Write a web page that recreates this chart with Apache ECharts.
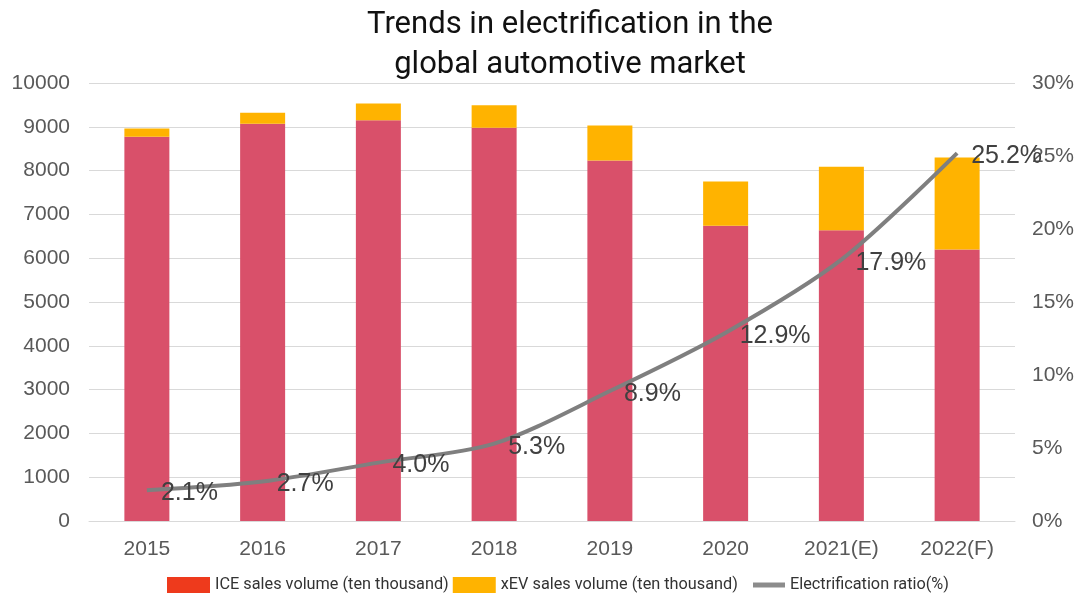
<!DOCTYPE html>
<html>
<head>
<meta charset="utf-8">
<script src="https://cdn.jsdelivr.net/npm/echarts@6/dist/echarts.min.js"></script>
<style>
  html, body { margin: 0; padding: 0; background: #fff; }
  #chart { width: 1080px; height: 601px; }
</style>
</head>
<body>
<div id="chart"></div>
<script>
  // data
  var years = ['2015', '2016', '2017', '2018', '2019', '2020', '2021(E)', '2022(F)'];
  var iceSales = [8770, 9070, 9150, 8980, 8230, 6740, 6640, 6200];
  var xevSales = [190, 250, 380, 510, 800, 1010, 1450, 2100];
  var ratio = [2.1, 2.7, 4.0, 5.3, 8.9, 12.9, 17.9, 25.2];

  var font = 'Roboto, "Liberation Sans", sans-serif';
  var axisFont = '"Liberation Sans", Arial, sans-serif';
  var chart = echarts.init(document.getElementById('chart'));

  chart.setOption({
    animation: false,
    title: {
      text: 'Trends in electrification in the\nglobal automotive market',
      left: 565,
      top: 0,
      textAlign: 'center',
      textStyle: { fontFamily: font, fontSize: 31, fontWeight: 'normal', color: '#111', lineHeight: 40 }
    },
    legend: [
      {
        left: 162,
        bottom: 3,
        itemGap: 4,
        itemWidth: 43,
        itemHeight: 16,
        textStyle: { fontFamily: font, fontSize: 16.3, color: '#333' },
        data: [
          { name: 'ICE sales volume (ten thousand)', icon: 'rect', itemStyle: { color: '#ee3a1c' } },
          { name: 'xEV sales volume (ten thousand)', icon: 'rect', itemStyle: { color: '#ffb300' } }
        ]
      },
      {
        left: 748,
        bottom: 3,
        itemWidth: 32,
        itemHeight: 16,
        textStyle: { fontFamily: font, fontSize: 16.3, color: '#333' },
        data: [{ name: 'Electrification ratio(%)', icon: 'path://M0,0 L32,0 L32,5 L0,5 Z', itemStyle: { color: '#8c8c8c' } }]
      }
    ],
    grid: { left: 89, right: 65, top: 83, bottom: 80 },
    xAxis: {
      type: 'category',
      data: years,
      axisTick: { show: false },
      axisLine: { show: true, lineStyle: { color: '#d9d9d9', width: 1 } },
      axisLabel: { fontFamily: axisFont, fontSize: 21, color: '#595959', margin: 18 }
    },
    yAxis: [
      {
        type: 'value',
        min: 0, max: 10000, interval: 1000,
        axisLine: { show: false },
        axisTick: { show: false },
        splitLine: { lineStyle: { color: '#d9d9d9', width: 1 } },
        axisLabel: { fontFamily: axisFont, fontSize: 21, color: '#595959', margin: 19, formatter: function (v) { return String(v); } }
      },
      {
        type: 'value',
        min: 0, max: 30, interval: 5,
        axisLine: { show: false },
        axisTick: { show: false },
        splitLine: { show: false },
        axisLabel: { fontFamily: axisFont, fontSize: 21, color: '#595959', margin: 17, formatter: '{value}%' }
      }
    ],
    series: [
      {
        name: 'ICE sales volume (ten thousand)',
        type: 'bar',
        stack: 'sales',
        barWidth: 45,
        itemStyle: { color: '#d9506a' },
        data: iceSales
      },
      {
        name: 'xEV sales volume (ten thousand)',
        type: 'bar',
        stack: 'sales',
        barWidth: 45,
        itemStyle: { color: '#ffb300' },
        data: xevSales
      },
      {
        name: 'Electrification ratio(%)',
        type: 'line',
        yAxisIndex: 1,
        smooth: 0.3,
        symbol: 'circle',
        symbolSize: 0.01,
        showSymbol: true,
        lineStyle: { color: '#7f7f7f', width: 4 },
        itemStyle: { color: '#7f7f7f' },
        label: {
          show: true,
          position: 'right',
          distance: 14,
          offset: [0, 3],
          fontFamily: axisFont,
          fontSize: 25,
          color: '#404040',
          formatter: function (p) { return p.value.toFixed(1) + '%'; }
        },
        data: ratio
      }
    ]
  });
</script>
</body>
</html>
